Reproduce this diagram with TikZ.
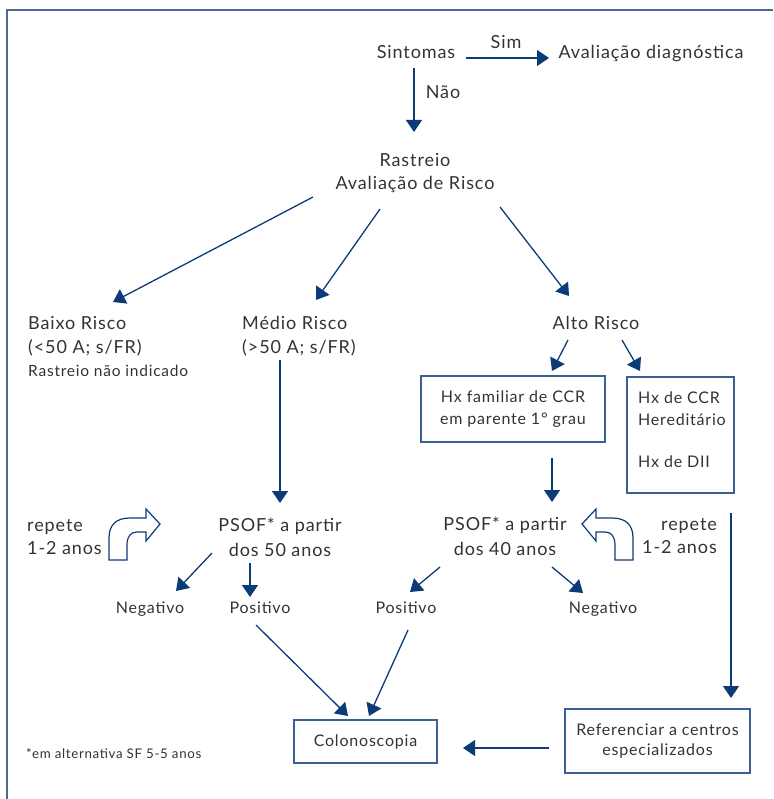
\documentclass[tikz,border=0pt]{standalone}
\usepackage{fontspec}
\setmainfont{Lato}[LetterSpace=5]
\usetikzlibrary{arrows.meta,positioning}

\definecolor{navy}{HTML}{0D3B78}
\definecolor{boxblue}{HTML}{3C5F95}
\definecolor{moldcol}{HTML}{4F6796}
\definecolor{txt}{HTML}{333333}

\tikzset{
  lbl/.style={text=txt, font=\fontsize{18}{24}\selectfont, inner sep=0pt, align=center},
  res/.style={lbl, font=\fontsize{16}{20}\selectfont},
  nota/.style={lbl, font=\fontsize{15.5}{19}\selectfont},
  rodape/.style={lbl, font=\fontsize{13.3}{16}\selectfont},
  boxtxt/.style={lbl, font=\fontsize{16}{22}\selectfont},
  box/.style={boxtxt, draw=boxblue, line width=1.5pt},
  arr/.style={draw=navy, line width=1.3pt, -{Triangle[width=16pt,length=12pt]}},
  moldura/.style={draw=moldcol, line width=2pt},
  curvaseta/.pic={
    \draw[navy, line width=1.2pt, fill=white, line join=miter]
      (109,560) -- (109,538) .. controls (109,525) and (116,518) .. (130,518)
      -- (146,518) -- (146,509) -- (160,524) -- (146,541) -- (146,532)
      -- (137,532) .. controls (131,532) and (127,536) .. (127,545)
      -- (127,560) -- cycle;
  },
}

\begin{document}
\begin{tikzpicture}[x=1pt, y=-1pt]
    \useasboundingbox (0,0) rectangle (773,799);
    \draw[moldura] (773,10) -- (7,10) -- (7,799);

    \node[lbl, anchor=base] (sintomas) at (416,59) {Sintomas};
    \node[lbl, anchor=base] (avaldiag) at (651,59) {Avaliação diagnóstica};
    \node[lbl, anchor=base] (sim) at (506,49) {Sim};
    \node[lbl, anchor=base] (nao) at (443,99) {Não};
    \node[lbl] (rastreio) at (415,173) {Rastreio\\[-1pt]Avaliação de Risco};

    \node[lbl, anchor=west, align=left] (baixo) at (28,336) {Baixo Risco\\(<50 A; s/FR)};
    \node[nota, anchor=base west] (baixonota) at (28,376) {Rastreio não indicado};
    \node[lbl, anchor=west, align=left] (medio) at (242,336) {Médio Risco\\(>50 A; s/FR)};
    \node[lbl, anchor=base] (alto) at (596,329) {Alto Risco};

    \node[box, minimum width=184pt, minimum height=66pt] (hxfam) at (513,409) {Hx familiar de CCR\\em parente 1° grau};
    \node[box, minimum width=107pt, minimum height=116pt] (hxher) at (680.5,435) {};
    \node[boxtxt, anchor=north west, align=left] (hxhertxt) at (638,392) {Hx de CCR\\Hereditário\\[20pt]Hx de DII};

    \node[lbl] (psof50) at (280,537.5) {PSOF* a partir\\[1pt]dos 50 anos};
    \node[lbl] (psof40) at (505,536) {PSOF* a partir\\[1pt]dos 40 anos};
    \node[lbl, anchor=west, align=left] (repete50) at (27,537.5) {repete\\[-1pt]1-2 anos};
    \node[lbl, anchor=east, align=right] (repete40) at (717,536) {repete\\[-1pt]1-2 anos};
    \pic at (0,0) {curvaseta};
    \pic[xscale=-1] at (742,0) {curvaseta};

    \node[res, anchor=base] (neg50) at (150,613) {Negativo};
    \node[res, anchor=base] (pos50) at (260,613) {Positivo};
    \node[res, anchor=base] (pos40) at (406,613) {Positivo};
    \node[res, anchor=base] (neg40) at (603,613) {Negativo};

    \node[box, minimum width=143pt, minimum height=43pt] (colono) at (365.5,741.5) {Colonoscopia};
    \node[box, minimum width=185pt, minimum height=64pt] (refer) at (657.5,741) {Referenciar a centros\\[-2pt]especializados};
    \node[rodape, anchor=base west] (asterisco) at (26,758) {*em alternativa SF 5-5 anos};

    % pontas das setas
    \coordinate (simA) at (466,58);   \coordinate (simB) at (549,58);
    \coordinate (naoA) at (414,68);   \coordinate (naoB) at (414,132);
    \coordinate (rbA) at (313,197);   \coordinate (rbB) at (113,302);
    \coordinate (rmA) at (380,209);   \coordinate (rmB) at (316,300);
    \coordinate (raA) at (500,207);   \coordinate (raB) at (569,296);
    \coordinate (afA) at (568,340);   \coordinate (afB) at (552,371);
    \coordinate (ahA) at (622,340);   \coordinate (ahB) at (640,371);
    \coordinate (mpA) at (280,360);   \coordinate (mpB) at (280,503);
    \coordinate (fpA) at (552,458);   \coordinate (fpB) at (552,502);
    \coordinate (n50A) at (212,553);  \coordinate (n50B) at (176,591);
    \coordinate (p50A) at (250,563);  \coordinate (p50B) at (250,597);
    \coordinate (p40A) at (440,567);  \coordinate (p40B) at (410,592);
    \coordinate (n40A) at (552,567);  \coordinate (n40B) at (583,593);
    \coordinate (pc1A) at (256,625);  \coordinate (pc1B) at (348,716);
    \coordinate (pc2A) at (408,630);  \coordinate (pc2B) at (369,716);
    \coordinate (rcA) at (549,748);   \coordinate (rcB) at (463,748);
    \coordinate (ladoA) at (731,513); \coordinate (ladoB) at (731,698);

    \path (simA) edge[arr] (simB)
          (naoA) edge[arr] (naoB)
          (rbA) edge[arr] (rbB)
          (rmA) edge[arr] (rmB)
          (raA) edge[arr] (raB)
          (afA) edge[arr] (afB)
          (ahA) edge[arr] (ahB)
          (mpA) edge[arr] (mpB)
          (fpA) edge[arr] (fpB)
          (n50A) edge[arr] (n50B)
          (p50A) edge[arr] (p50B)
          (p40A) edge[arr] (p40B)
          (n40A) edge[arr] (n40B)
          (pc1A) edge[arr] (pc1B)
          (pc2A) edge[arr] (pc2B)
          (rcA) edge[arr] (rcB)
          (ladoA) edge[arr] (ladoB)
          ;
\end{tikzpicture}
\end{document}
